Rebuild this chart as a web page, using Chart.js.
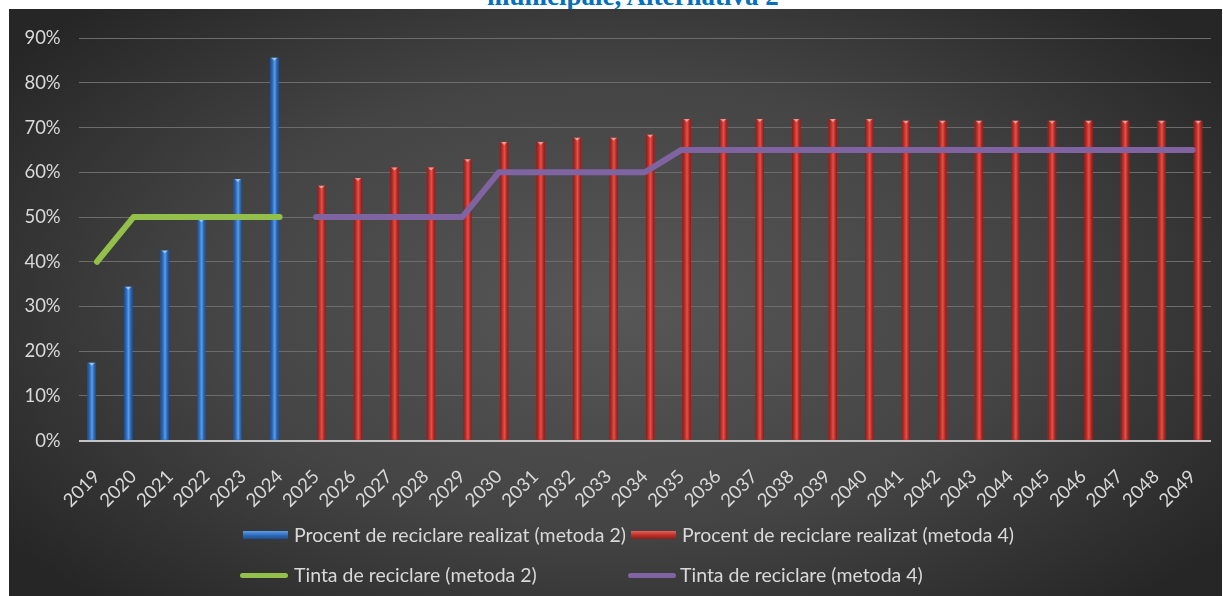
<!DOCTYPE html>
<html>
<head>
<meta charset="utf-8">
<script src="https://cdn.jsdelivr.net/npm/chart.js@4.4.0/dist/chart.umd.min.js"></script>
<style>
  body { margin: 0; background: #fff; width: 1223px; height: 596px; overflow: hidden; position: relative; font-family: Lato, sans-serif; }
  #titlu { position: absolute; left: 487px; top: -17px; font: bold 27px/27px "Liberation Serif", "Times New Roman", serif; color: #0070C0; white-space: nowrap; }
  #cadru { position: absolute; left: 9px; top: 9px; width: 1213px; height: 587px;
    background: radial-gradient(ellipse 62% 70% at 50% 50%, #575757 0%, #444 55%, #262626 100%); }
  #cadru canvas { position: absolute; left: 0; top: 0; }
  .leg { position: absolute; color: #d9d9d9; font: 19.5px Lato, sans-serif; white-space: nowrap; line-height: 22px; }
  .cutie { position: absolute; width: 45px; height: 8px; }
  .linie { position: absolute; width: 48px; height: 5px; border-radius: 3px; }
</style>
</head>
<body>
<div id="titlu">municipale, Alternativa 2</div>
<div id="cadru">
  <canvas id="grafic" width="1213" height="587"></canvas>
  <div class="cutie" style="left:234px;top:522px;background:linear-gradient(#5a9ee8,#2f6fc0 50%,#1d4c8c)"></div>
  <div class="leg" style="left:285px;top:515px">Procent de reciclare realizat (metoda 2)</div>
  <div class="cutie" style="left:622px;top:522px;background:linear-gradient(#e8605a,#c0302a 50%,#8a1f1b)"></div>
  <div class="leg" style="left:673px;top:515px">Procent de reciclare realizat (metoda 4)</div>
  <div class="linie" style="left:231px;top:564px;background:#92c04a"></div>
  <div class="leg" style="left:285px;top:555px">Tinta de reciclare (metoda 2)</div>
  <div class="linie" style="left:619px;top:564px;background:#8064a2"></div>
  <div class="leg" style="left:671px;top:555px">Tinta de reciclare (metoda 4)</div>
</div>
<script>
const ani = ['2019', '2020', '2021', '2022', '2023', '2024', '2025', '2026', '2027', '2028',
  '2029', '2030', '2031', '2032', '2033', '2034', '2035', '2036', '2037', '2038',
  '2039', '2040', '2041', '2042', '2043', '2044', '2045', '2046', '2047', '2048', '2049'];

// procente
const procentMetoda2 = [17.4, 34.4, 42.5, 49.5, 58.5, 85.6,
  null, null, null, null, null, null, null, null, null, null, null, null, null,
  null, null, null, null, null, null, null, null, null, null, null, null];
const procentMetoda4 = [null, null, null, null, null, null,
  57.0, 58.7, 61.1, 61.1, 62.9, 66.8, 66.8, 67.7, 67.7, 68.4,
  71.9, 71.9, 71.9, 71.9, 71.9, 71.9,
  71.5, 71.5, 71.5, 71.5, 71.5, 71.5, 71.5, 71.5, 71.5];
const tintaMetoda2 = [40, 50, 50, 50, 50, 50,
  null, null, null, null, null, null, null, null, null, null, null, null, null,
  null, null, null, null, null, null, null, null, null, null, null, null];
const tintaMetoda4 = [null, null, null, null, null, null,
  50, 50, 50, 50, 50, 60, 60, 60, 60, 60,
  65, 65, 65, 65, 65, 65, 65, 65, 65, 65, 65, 65, 65, 65, 65];

const yTicks = [0, 10, 20, 30, 40, 50, 60, 70, 80, 90];

const culoriBare = {
  0: ['#1b4a86', '#2f6fc0', '#5c9ce6'],
  1: ['#821c19', '#c0302a', '#e2514a']
};

// umbrire cilindrica peste fiecare bara
const umbrireBare = {
  id: 'umbrireBare',
  afterDatasetDraw(chart, args) {
    const meta = args.meta;
    if (meta.type !== 'bar') return;
    const c = culoriBare[args.index];
    const ctx = chart.ctx;
    ctx.save();
    meta.data.forEach((el, i) => {
      const v = chart.data.datasets[args.index].data[i];
      if (v === null || v === undefined) return;
      const p = el.getProps(['x', 'y', 'base', 'width'], true);
      const x0 = p.x - p.width / 2;
      const g = ctx.createLinearGradient(x0, 0, x0 + p.width, 0);
      g.addColorStop(0, c[0]);
      g.addColorStop(0.3, c[1]);
      g.addColorStop(0.55, c[2]);
      g.addColorStop(0.75, c[1]);
      g.addColorStop(1, c[0]);
      ctx.fillStyle = g;
      ctx.fillRect(x0, p.y, p.width, p.base - p.y);
      // capac mic deschis
      ctx.fillStyle = 'rgba(255,255,255,0.45)';
      ctx.beginPath();
      ctx.moveTo(x0 + 1, p.y);
      ctx.lineTo(x0 + p.width - 1, p.y);
      ctx.lineTo(p.x, p.y + 3);
      ctx.closePath();
      ctx.fill();
    });
    ctx.restore();
  }
};

new Chart(document.getElementById('grafic'), {
  data: {
    labels: ani,
    datasets: [
      { type: 'bar', label: 'Procent de reciclare realizat (metoda 2)', data: procentMetoda2,
        backgroundColor: '#2f6fc0', order: 2, categoryPercentage: 0.58, barPercentage: 0.8 },
      { type: 'bar', label: 'Procent de reciclare realizat (metoda 4)', data: procentMetoda4,
        backgroundColor: '#c0302a', order: 2, categoryPercentage: 0.58, barPercentage: 0.8 },
      { type: 'line', label: 'Tinta de reciclare (metoda 2)', data: tintaMetoda2,
        borderColor: '#92c04a', borderWidth: 6, borderCapStyle: 'round', borderJoinStyle: 'round',
        pointRadius: 0, spanGaps: false, order: 1 },
      { type: 'line', label: 'Tinta de reciclare (metoda 4)', data: tintaMetoda4,
        borderColor: '#8064a2', borderWidth: 6, borderCapStyle: 'round', borderJoinStyle: 'round',
        pointRadius: 0, spanGaps: false, order: 1 }
    ]
  },
  options: {
    responsive: false,
    animation: false,
    devicePixelRatio: 1,
    layout: { padding: { top: 25.3, right: 11, left: 0, bottom: 0 } },
    plugins: {
      legend: { display: false },
      title: { display: false },
      tooltip: { enabled: false }
    },
    scales: {
      x: {
        grid: { display: false },
        border: { display: false },
        ticks: {
          autoSkip: false, maxRotation: 45, minRotation: 45, padding: 17,
          color: '#d9d9d9', font: { family: 'Lato', size: 18.5 }
        },
        afterFit(scale) {
          scale.height = 155.3;
          scale.paddingLeft = 0;
          scale.paddingRight = 0;
        }
      },
      y: {
        min: 0, max: 90,
        afterBuildTicks(scale) { scale.ticks = yTicks.map(v => ({ value: v })); },
        grid: {
          drawTicks: false,
          color: ctx => ctx.tick && ctx.tick.value === 0 ? '#c4c4c4' : '#6c6c6c',
          lineWidth: ctx => ctx.tick && ctx.tick.value === 0 ? 2 : 1
        },
        border: { display: false },
        ticks: {
          padding: 18, color: '#d9d9d9', font: { family: 'Lato', size: 18.5 },
          callback: v => v + '%'
        },
        afterFit(scale) { scale.width = 69.7; }
      }
    }
  },
  plugins: [umbrireBare]
});
</script>
</body>
</html>
